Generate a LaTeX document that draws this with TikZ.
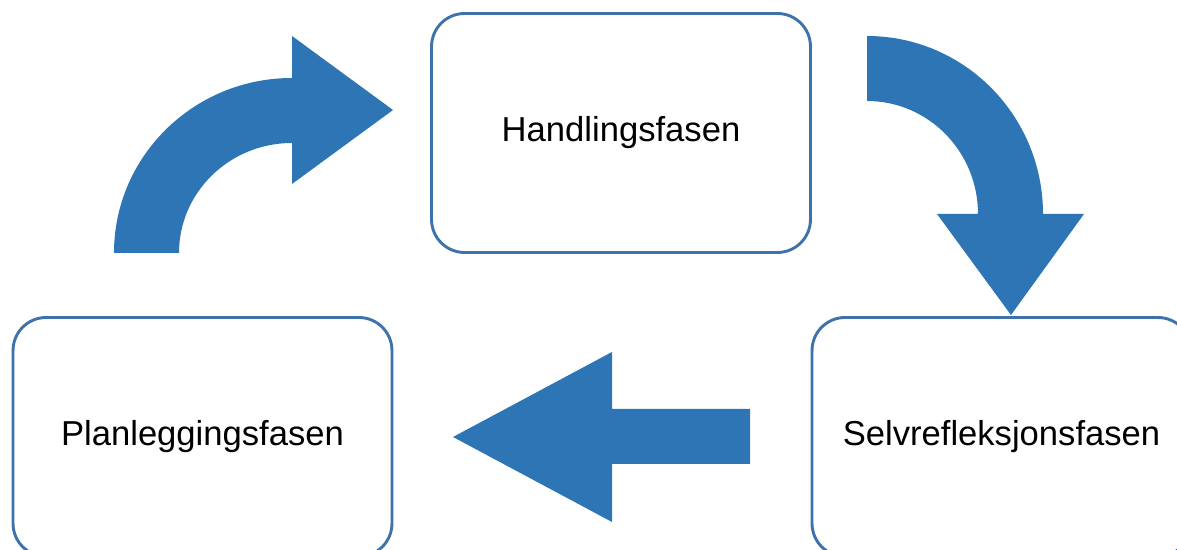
\documentclass[tikz,border=0pt]{standalone}
\usepackage{fontspec}
\setmainfont{Liberation Sans}
\definecolor{boxblue}{RGB}{62,114,170}
\definecolor{arrowblue}{RGB}{46,117,182}
\tikzset{
  phase/.style={draw=boxblue, line width=0.058cm, rounded corners=0.66cm, fill=white,
    minimum width=7.58cm, minimum height=4.78cm, inner sep=0pt,
    font=\fontsize{19.7}{24}\selectfont, text=black},
  blockarrow/.style={fill=arrowblue, draw=none}
}
\begin{document}
\begin{tikzpicture}[x=0.02cm, y=0.02cm]
\useasboundingbox (0,0) rectangle (1177,550);
\clip (0,0) rectangle (1177,550);
% boxes
\node[phase] (hand) at (621,417) {Handlingsfasen};
\node[phase] (plan) at (202.5,113) {Planleggingsfasen};
\node[phase] (selv) at (1001.5,113) {Selvrefleksjonsfasen};
% curved arrow: planning -> action
\fill[blockarrow] (114,297)
  arc[start angle=180, end angle=90, x radius=178, y radius=175]
  -- (292,514) -- (393,440) -- (292,366) -- (292,407)
  arc[start angle=90, end angle=180, x radius=113, y radius=110]
  -- cycle;
% curved arrow: action -> self-reflection
\fill[blockarrow] (867,514)
  arc[start angle=90, end angle=0, x radius=176, y radius=178]
  -- (1084,336) -- (1011,235) -- (937,336) -- (978,336)
  arc[start angle=0, end angle=90, x radius=111, y radius=113]
  -- cycle;
% straight arrow: self-reflection -> planning
\fill[blockarrow] (750,141) -- (750,86) -- (612,86) -- (612,28) -- (453,113)
  -- (612,198) -- (612,141) -- cycle;
\end{tikzpicture}
\end{document}
